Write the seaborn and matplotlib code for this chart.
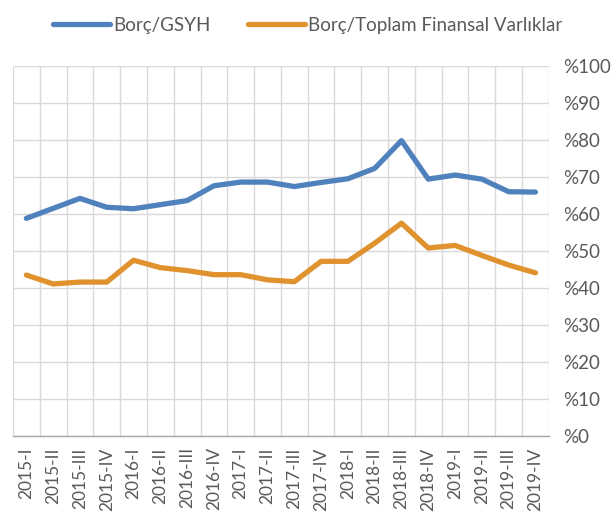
import seaborn as sns
import matplotlib.pyplot as plt
import pandas as pd
from matplotlib.ticker import FuncFormatter, MultipleLocator

quarters = [f"{y}-{q}" for y in range(2015, 2020) for q in ["I", "II", "III", "IV"]]
borc_gsyh = [58.8, 61.5, 64.2, 61.8, 61.4, 62.5, 63.6, 67.6, 68.6, 68.6,
             67.4, 68.5, 69.5, 72.3, 79.8, 69.4, 70.5, 69.4, 66.0, 65.9]
borc_varlik = [43.5, 41.1, 41.6, 41.6, 47.5, 45.5, 44.7, 43.6, 43.6, 42.2,
               41.7, 47.2, 47.2, 52.1, 57.5, 50.8, 51.5, 48.8, 46.2, 44.1]
series_names = ["Borç/GSYH", "Borç/Toplam Finansal Varlıklar"]
colors = ["#4F81BD", "#E0922F"]

df = pd.DataFrame({
    "donem": quarters * 2,
    "deger": borc_gsyh + borc_varlik,
    "seri": [series_names[0]] * len(quarters) + [series_names[1]] * len(quarters),
})

sns.set_theme(style="white")
plt.rcParams["font.family"] = ["Lato", "DejaVu Sans"]
text_color = "#595959"

fig = plt.figure(figsize=(6.16, 5.18), dpi=100)
ax = fig.add_axes([0.021, 0.158, 0.870, 0.715])

sns.lineplot(data=df, x="donem", y="deger", hue="seri", palette=colors,
             linewidth=3.8, ax=ax, sort=False)

ax.set_xlim(-0.5, len(quarters) - 0.5)
ax.set_ylim(0, 100)
ax.set_xlabel("")
ax.set_ylabel("")

ax.yaxis.tick_right()
ax.yaxis.set_major_locator(MultipleLocator(10))
ax.yaxis.set_major_formatter(FuncFormatter(lambda v, p: f"%{v:.0f}"))
ax.tick_params(axis="y", length=0, pad=10, labelsize=13.5, colors=text_color)

ax.set_xticks(range(len(quarters)))
ax.set_xticklabels(quarters, rotation=90)
ax.set_xticks([i - 0.5 for i in range(len(quarters) + 1)], minor=True)
ax.tick_params(axis="x", which="major", length=0, pad=8, labelsize=12.5, colors=text_color)
ax.tick_params(axis="x", which="minor", length=5, width=1, color="#A6A6A6", direction="out")

ax.grid(axis="y", which="major", color="#D9D9D9", linewidth=1)
ax.grid(axis="x", which="minor", color="#D9D9D9", linewidth=1)
ax.set_axisbelow(True)

for side in ["top", "left", "right"]:
    ax.spines[side].set_visible(False)
ax.spines["bottom"].set_color("#A6A6A6")
ax.spines["bottom"].set_linewidth(1)

ax.legend_.remove()
handles, labels = ax.get_legend_handles_labels()
fig.legend(handles, labels, loc="upper center", bbox_to_anchor=(0.5, 1.0),
           ncol=2, frameon=False, fontsize=13.5, labelcolor=text_color,
           handlelength=3.0, handletextpad=0.2, columnspacing=2.0)

fig.savefig("out.png", dpi=100)
